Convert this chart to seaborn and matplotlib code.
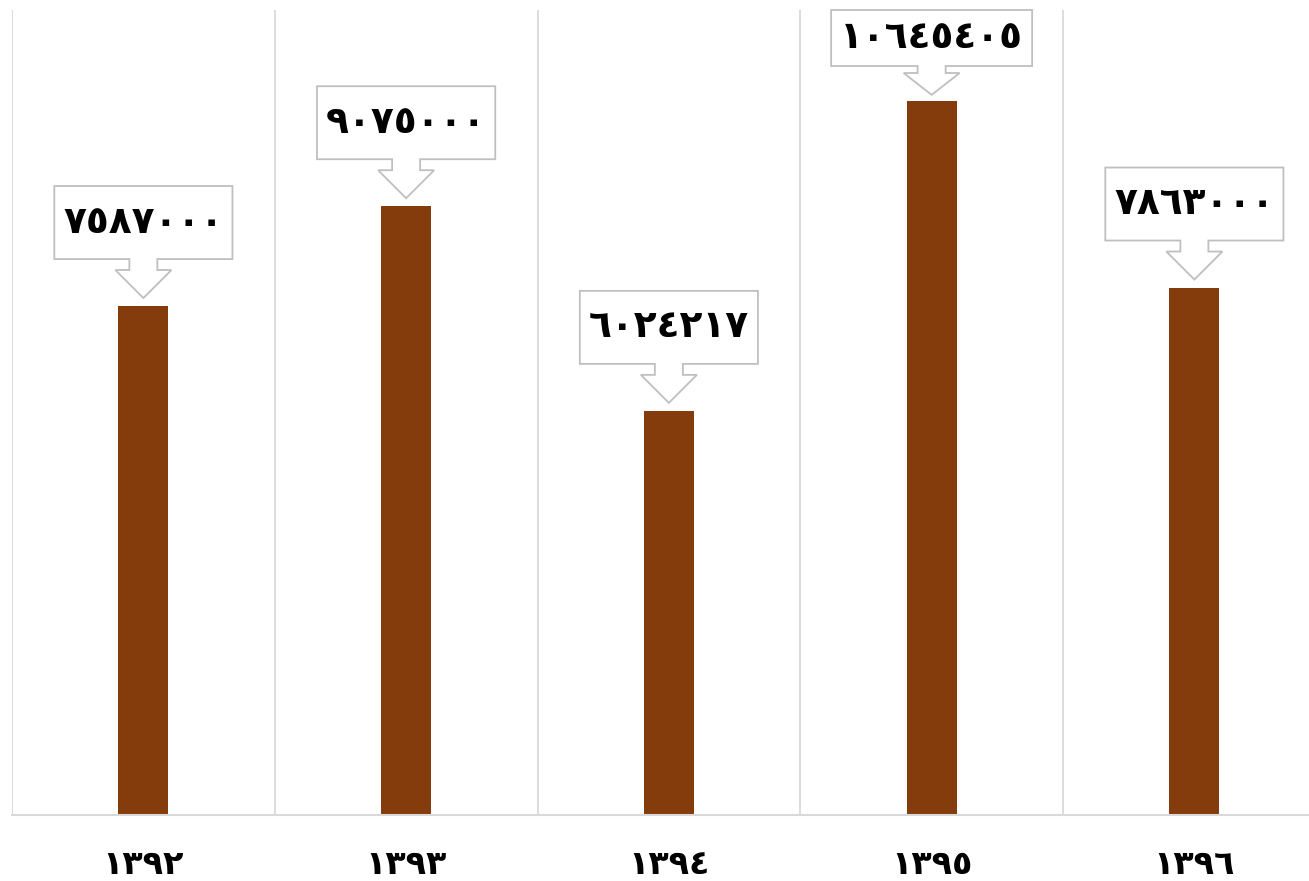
import matplotlib
matplotlib.use("Agg")
import matplotlib.pyplot as plt
import pandas as pd
import seaborn as sns
from matplotlib.patches import Polygon

# data
years = ["1392", "1393", "1394", "1395", "1396"]
values = [7587000, 9075000, 6024217, 10645405, 7863000]

to_ar = str.maketrans("0123456789", "٠١٢٣٤٥٦٧٨٩")
df = pd.DataFrame({"year": [y.translate(to_ar) for y in years], "value": values})

sns.set_style("white")
plt.rcParams['font.family'] = ['DejaVu Sans']

W, H = 1309, 881
fig = plt.figure(figsize=(W / 100, H / 100), dpi=100)
ax = fig.add_axes([12 / W, 66 / H, (W - 12) / W, 805 / H])

sns.barplot(data=df, x="year", y="value", color="#843C0C", width=0.19,
            saturation=1, linewidth=0, ax=ax)

ax.set_xlim(-0.5, -0.5 + (W - 12) / 262.75)
ax.set_ylim(0, 12000000)
for b in range(len(years) + 1):
    ax.axvline(b - 0.5, color="#D9D9D9", lw=1.3, zorder=0)
for s in ["top", "right", "left"]:
    ax.spines[s].set_visible(False)
ax.spines["bottom"].set_color("#D9D9D9")
ax.spines["bottom"].set_linewidth(1.5)
ax.set_yticks([])
ax.set_xlabel("")
ax.set_ylabel("")
ax.tick_params(axis="x", length=0, pad=24, colors="black")
for t in ax.get_xticklabels():
    t.set_fontsize(24)
    t.set_fontweight("bold")
    t.set_color("black")

fig.canvas.draw()
r = fig.canvas.get_renderer()
ax_top = ax.transAxes.transform((0, 1))[1]

# callout labels (pixel geometry around each bar top)
for i, v in enumerate(values):
    cx, top = ax.transData.transform((i, v))
    tip = top + 8
    head = tip + 28
    boxb = tip + 39
    boxt = boxb + 73
    if boxt > ax_top:
        # squeeze the callout under the plot top, like the original
        boxt = ax_top
        boxb = boxt - 56
        tip = top + 6
        head = boxb - 7
    txt = ax.text(i, 0, str(v).translate(to_ar), fontsize=27, fontweight="bold",
                  ha="center", va="center", color="black", zorder=5)
    tw = txt.get_window_extent(renderer=r).width
    bw = tw + 18
    txt.set_transform(None)
    txt.set_position((cx, (boxb + boxt) / 2))
    txt.set_clip_on(False)
    pts = [(cx, tip), (cx + 28, head), (cx + 14, head), (cx + 14, boxb),
           (cx + bw / 2, boxb), (cx + bw / 2, boxt), (cx - bw / 2, boxt),
           (cx - bw / 2, boxb), (cx - 14, boxb), (cx - 14, head), (cx - 28, head)]
    poly = Polygon(pts, closed=True, facecolor="white", edgecolor="#BFBFBF",
                   lw=1.3, transform=None, clip_on=False, zorder=4)
    ax.add_artist(poly)

fig.savefig("out.png", dpi=100)
